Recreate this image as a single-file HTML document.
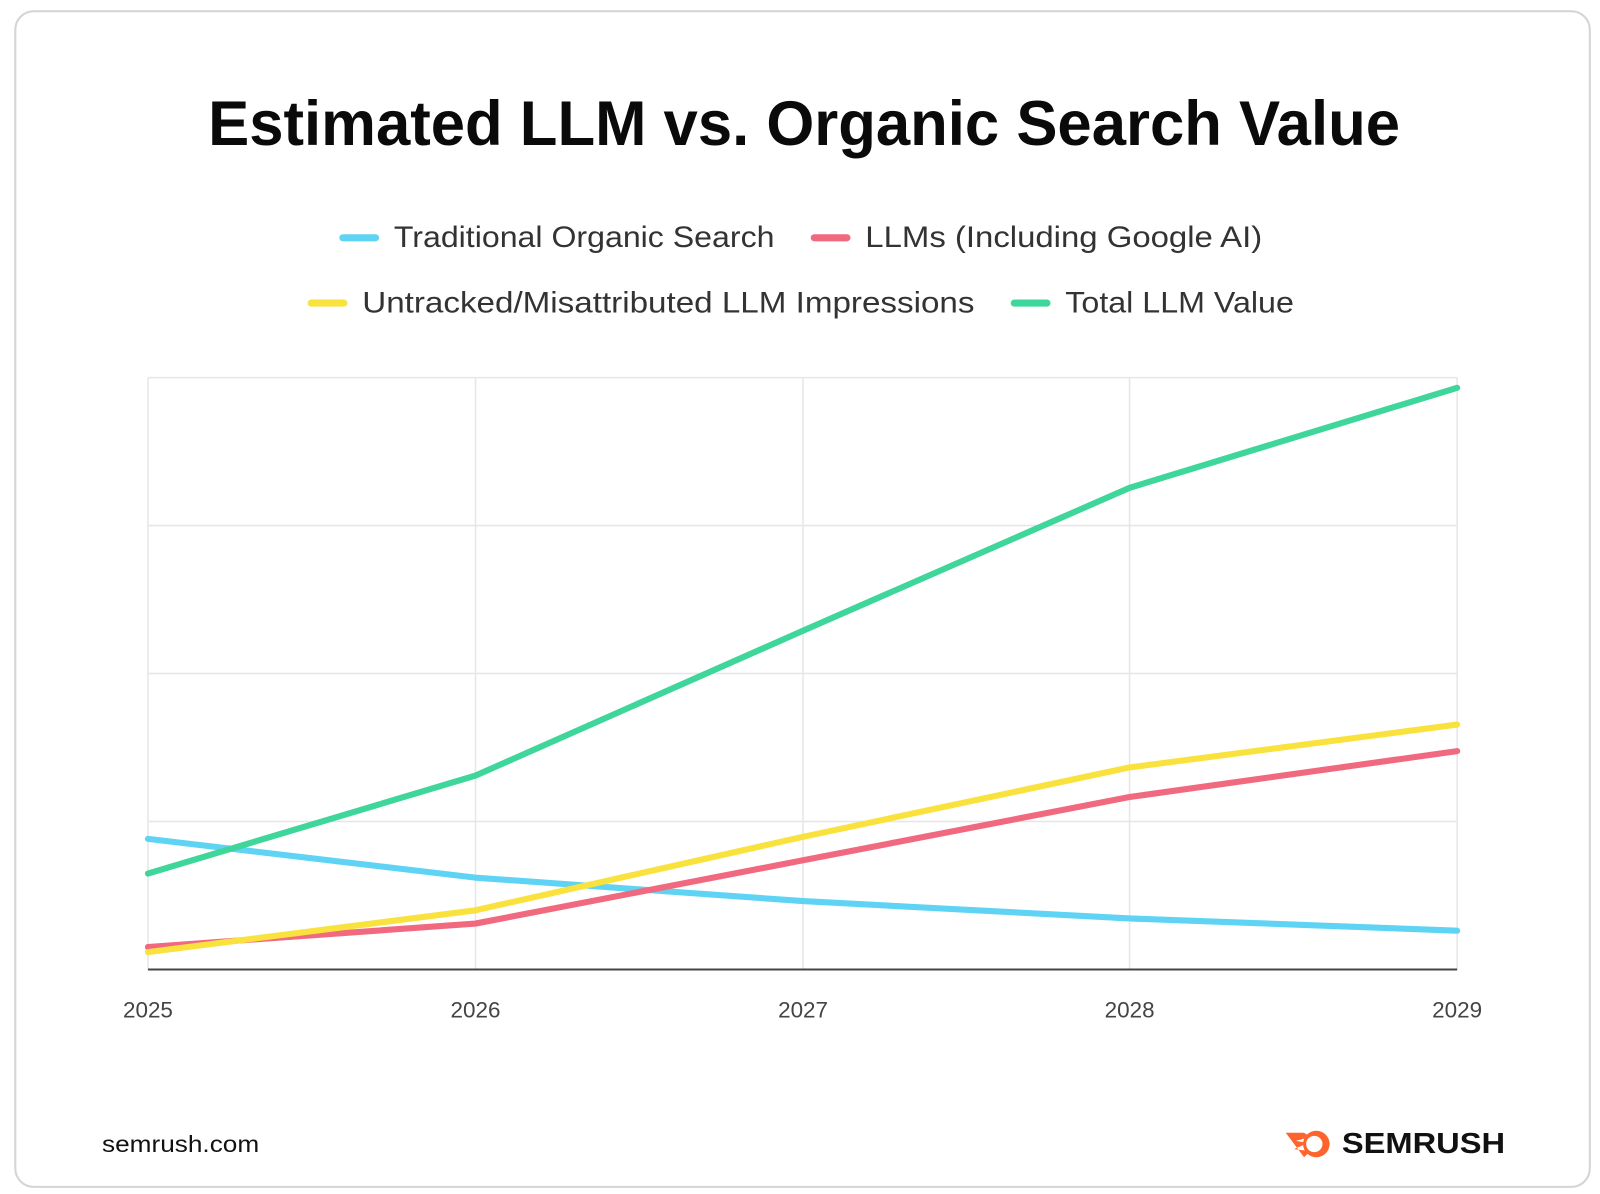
<!DOCTYPE html>
<html><head><style>html,body{margin:0;padding:0;background:#fff;}svg{display:block}</style></head>
<body>
<svg width="1600" height="1194" viewBox="0 0 1568 1170" preserveAspectRatio="none" xmlns="http://www.w3.org/2000/svg" font-family="Liberation Sans, sans-serif">
<rect x="0" y="0" width="1568" height="1170" fill="#fff"/>
<rect x="15" y="11" width="1543" height="1152" rx="18" fill="#fff" stroke="#d4d4d4" stroke-width="2"/>
<text x="788" y="142" text-anchor="middle" font-size="62" font-weight="bold" fill="#0a0a0a" textLength="1168" lengthAdjust="spacingAndGlyphs">Estimated LLM vs. Organic Search Value</text>
<g stroke-width="7" stroke-linecap="round">
<line x1="336" y1="233" x2="368" y2="233" stroke="#5fd3f3"/>
<line x1="798" y1="233" x2="830" y2="233" stroke="#f1697f"/>
<line x1="305" y1="297" x2="337" y2="297" stroke="#f9e23e"/>
<line x1="994" y1="297" x2="1026" y2="297" stroke="#3ed69a"/>
</g>
<g font-size="29" fill="#333">
<text x="386" y="242" textLength="373" lengthAdjust="spacingAndGlyphs">Traditional Organic Search</text>
<text x="848" y="242" textLength="389" lengthAdjust="spacingAndGlyphs">LLMs (Including Google AI)</text>
<text x="355" y="306" textLength="600" lengthAdjust="spacingAndGlyphs">Untracked/Misattributed LLM Impressions</text>
<text x="1044" y="306" textLength="224" lengthAdjust="spacingAndGlyphs">Total LLM Value</text>
</g>
<g stroke="#e6e6e6" stroke-width="1.5">
<line x1="145" y1="370" x2="1428" y2="370"/>
<line x1="145" y1="515" x2="1428" y2="515"/>
<line x1="145" y1="660" x2="1428" y2="660"/>
<line x1="145" y1="805" x2="1428" y2="805"/>
<line x1="145" y1="370" x2="145" y2="950"/>
<line x1="466" y1="370" x2="466" y2="950"/>
<line x1="787" y1="370" x2="787" y2="950"/>
<line x1="1107" y1="370" x2="1107" y2="950"/>
<line x1="1428" y1="370" x2="1428" y2="950"/>
</g>
<line x1="145" y1="950" x2="1428" y2="950" stroke="#444" stroke-width="2"/>
<g fill="none" stroke-width="6" stroke-linejoin="round" stroke-linecap="round">
<polyline stroke="#5fd3f3" points="145,822 466,860 787,883 1107,900 1428,912"/>
<polyline stroke="#f1697f" points="145,928 466,905 787,843 1107,781 1428,736"/>
<polyline stroke="#f9e23e" points="145,933 466,892 787,820 1107,752 1428,710"/>
<polyline stroke="#3ed69a" points="145,856 466,760 787,618 1107,478 1428,380"/>
</g>
<g font-size="22" fill="#444" text-anchor="middle">
<text x="145" y="997">2025</text><text x="466" y="997">2026</text><text x="787" y="997">2027</text><text x="1107" y="997">2028</text><text x="1428" y="997">2029</text>
</g>
<text x="100" y="1129" font-size="23" fill="#111" textLength="154" lengthAdjust="spacingAndGlyphs">semrush.com</text>
<g transform="translate(1260,1106)">
<path d="M0,4 L18,4 L24,8 L10,12 L22,14 L8,20 L24,22 L18,28 Z" fill="#ff642d"/>
<circle cx="30" cy="15" r="13" fill="#ff642d"/>
<circle cx="28" cy="15" r="8" fill="#fff"/>
</g>
<text x="1315" y="1130" font-size="28" font-weight="bold" fill="#111" textLength="160" lengthAdjust="spacingAndGlyphs">SEMRUSH</text>
</svg>
</body></html>
